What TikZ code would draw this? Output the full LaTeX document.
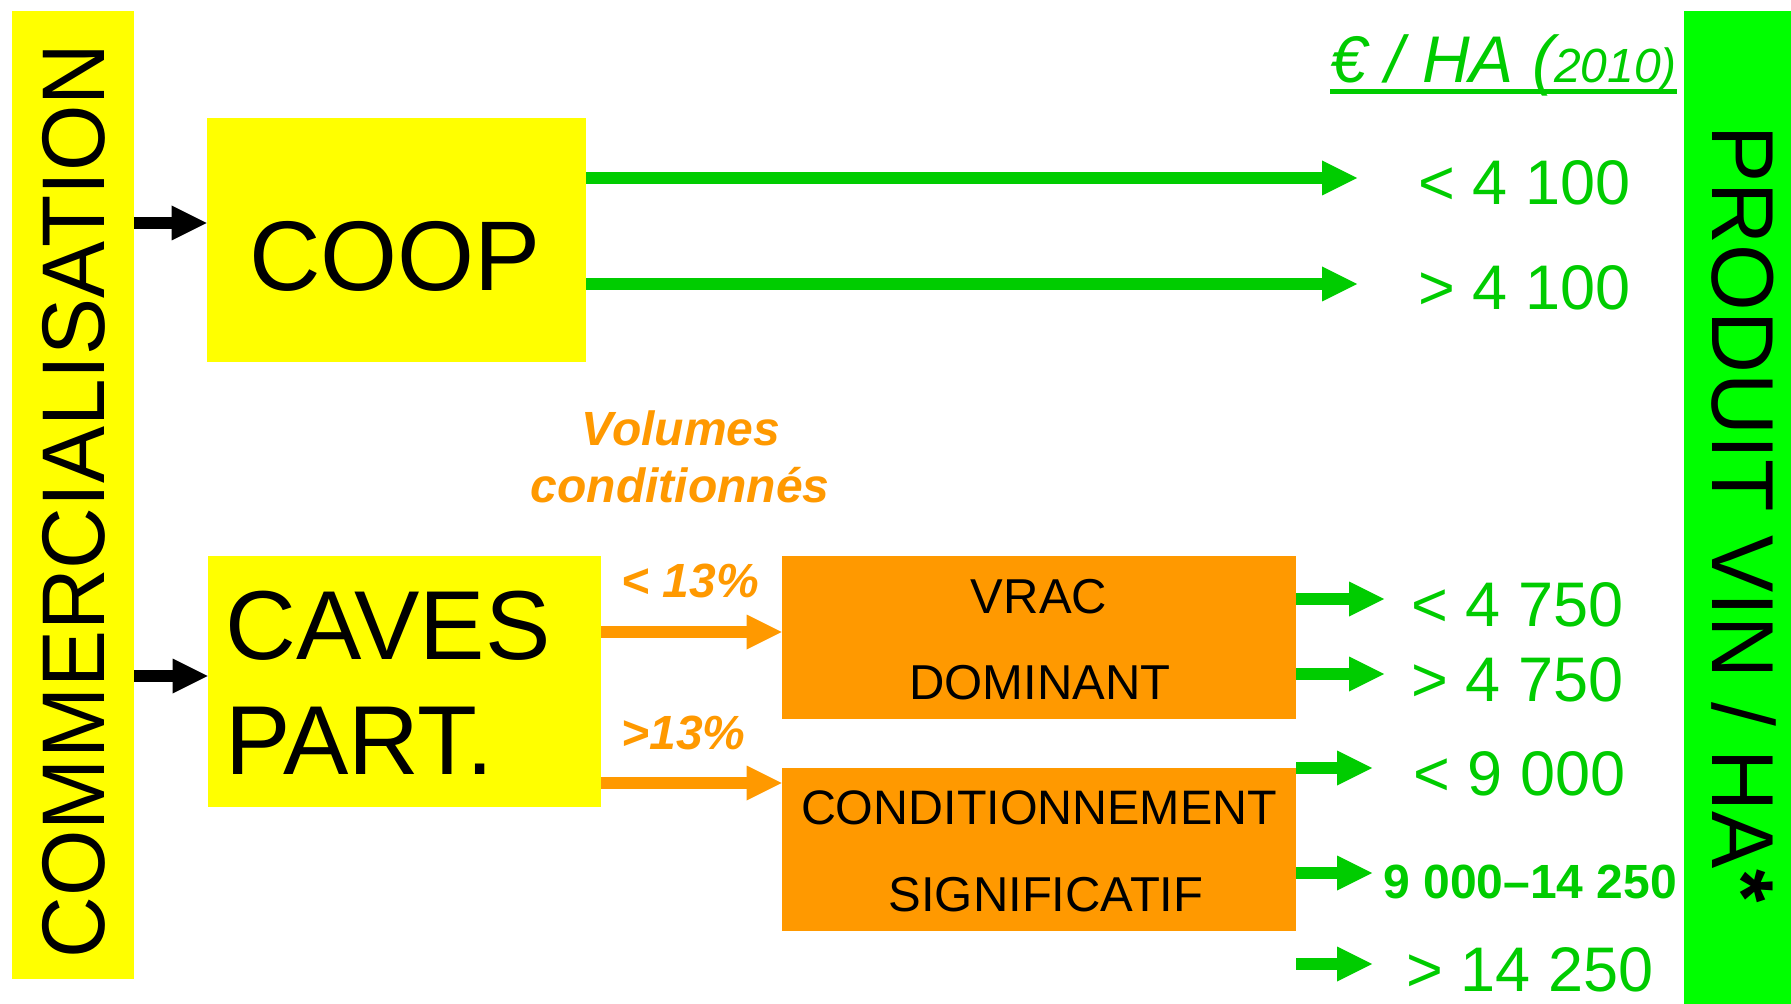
\documentclass[tikz,border=0pt]{standalone}
\usepackage{fontspec}
\setmainfont{Liberation Sans}
\newfontfamily\narrowsans[FakeStretch=0.96]{Liberation Sans}
\newfontfamily\prodsans[FakeStretch=0.975]{Liberation Sans}
\usetikzlibrary{arrows.meta}
\definecolor{tgreen}{RGB}{0,204,0}
\definecolor{bgreen}{RGB}{0,255,0}
\definecolor{orng}{RGB}{255,153,0}
\definecolor{ylw}{RGB}{255,255,0}
\newcommand\pxfont[1]{\fontsize{#1}{#1}\selectfont}
\begin{document}
\begin{tikzpicture}[x=0.5pt,y=-0.5pt,
  box/.style={inner sep=0pt, draw=none},
  ybox/.style={box, fill=ylw},
  obox/.style={box, fill=orng},
  txt/.style={inner sep=0pt, anchor=base},
  ltxt/.style={inner sep=0pt, anchor=base west},
  arrowbase/.style={line width=6pt, -{Triangle[length=17.5pt,width=17.5pt,line width=0pt]}},
  blkarrow/.style={arrowbase, draw=black},
  grnarrow/.style={arrowbase, draw=tgreen},
  orgarrow/.style={arrowbase, draw=orng},
  val/.style={ltxt, text=tgreen, font=\pxfont{31.5pt}},
  pct/.style={ltxt, text=orng, font=\pxfont{24pt}\bfseries\itshape},
  boxtxt/.style={txt, font=\pxfont{24.5pt}}
]
\useasboundingbox[fill=white] (0,0) rectangle (1791,1004);

% side bars
\node[ybox, minimum width=61pt, minimum height=484pt] (comm) at (73,495) {};
\node[rotate=90, inner sep=0pt, font=\narrowsans\pxfont{44.5pt}] (commtxt) at (74,501) {COMMERCIALISATION};
\node[box, fill=bgreen, minimum width=53.5pt, minimum height=496.5pt] (prod) at (1737.5,507.5) {};
\node[rotate=-90, inner sep=0pt, anchor=base west, font=\prodsans\pxfont{44pt}] (prodtxt) at (1712,125) {PRODUIT VIN / HA\textbf{*}};

% boxes
\node[ybox, minimum width=189.5pt, minimum height=122pt] (coop) at (396.5,240) {};
\node[txt, font=\pxfont{49.5pt}] (cooptxt) at (395,291) {COOP};
\node[ybox, minimum width=196.5pt, minimum height=125.5pt] (caves) at (404.5,681.5) {};
\node[ltxt, font=\pxfont{49pt}] (cavestxt) at (225,659) {CAVES};
\node[ltxt, font=\pxfont{49pt}] (parttxt) at (225,774) {PART.};
\node[obox, minimum width=257pt, minimum height=81.5pt] (vrac) at (1039,637.5) {};
\node[boxtxt] (vractxt) at (1039,613) {VRAC};
\node[boxtxt] (domtxt) at (1040,699) {DOMINANT};
\node[obox, minimum width=257pt, minimum height=81.5pt] (cond) at (1039,849.5) {};
\node[boxtxt, font=\pxfont{24.2pt}] (condtxt) at (1039,824) {CONDITIONNEMENT};
\node[boxtxt] (signtxt) at (1046,911) {SIGNIFICATIF};

% header
\node[ltxt, text=tgreen, font=\itshape] (hdr) at (1330,83) {\pxfont{33pt}€ / HA (\pxfont{24pt}2010)};
\draw[tgreen, line width=2.5pt] ([yshift=-4.25pt]hdr.base west) -- ([yshift=-4.25pt]hdr.base east);

% orange labels
\node[txt, text=orng, font=\pxfont{24pt}\bfseries\itshape] (vol1) at (681,446) {Volumes};
\node[txt, text=orng, font=\pxfont{24pt}\bfseries\itshape] (vol2) at (680,503) {conditionnés};
\node[pct] (pctlow) at (621,597) {< 13\%};
\node[pct] (pcthigh) at (621,749) {>13\%};

% value labels
\node[val] (v1) at (1418,205) {< 4 100};
\node[val] (v2) at (1418,310) {> 4 100};
\node[val] (v3) at (1411,626) {< 4 750};
\node[val] (v4) at (1411,701) {> 4 750};
\node[val] (v5) at (1413,795) {< 9 000};
\node[ltxt, text=tgreen, font=\pxfont{24pt}\bfseries] (v6) at (1383,898) {9 000–14 250};
\node[val] (v7) at (1406,991) {> 14 250};

% arrow coordinates
\coordinate (b1) at (207,223);
\coordinate (b2) at (207,676);
\coordinate (g1) at (1357,178);
\coordinate (g2) at (1357,284);
\coordinate (o1) at (782,632);
\coordinate (o2) at (782,783);
\coordinate (g3) at (1384,599);
\coordinate (g4) at (1384,674);
\coordinate (g5) at (1372,768);
\coordinate (g6) at (1372,873);
\coordinate (g7) at (1372,964);

% connectors
\draw[blkarrow] (comm.east |- b1) -- (coop.west |- b1);
\draw[blkarrow] (comm.east |- b2) -- (caves.west |- b2);
\draw[grnarrow] (coop.east |- g1) -- (g1);
\draw[grnarrow] (coop.east |- g2) -- (g2);
\draw[orgarrow] (caves.east |- o1) -- (vrac.west |- o1);
\draw[orgarrow] (caves.east |- o2) -- (cond.west |- o2);
\draw[grnarrow] (vrac.east |- g3) -- (g3);
\draw[grnarrow] (vrac.east |- g4) -- (g4);
\draw[grnarrow] (cond.east |- g5) -- (g5);
\draw[grnarrow] (cond.east |- g6) -- (g6);
\draw[grnarrow] (cond.east |- g7) -- (g7);
\end{tikzpicture}
\end{document}
